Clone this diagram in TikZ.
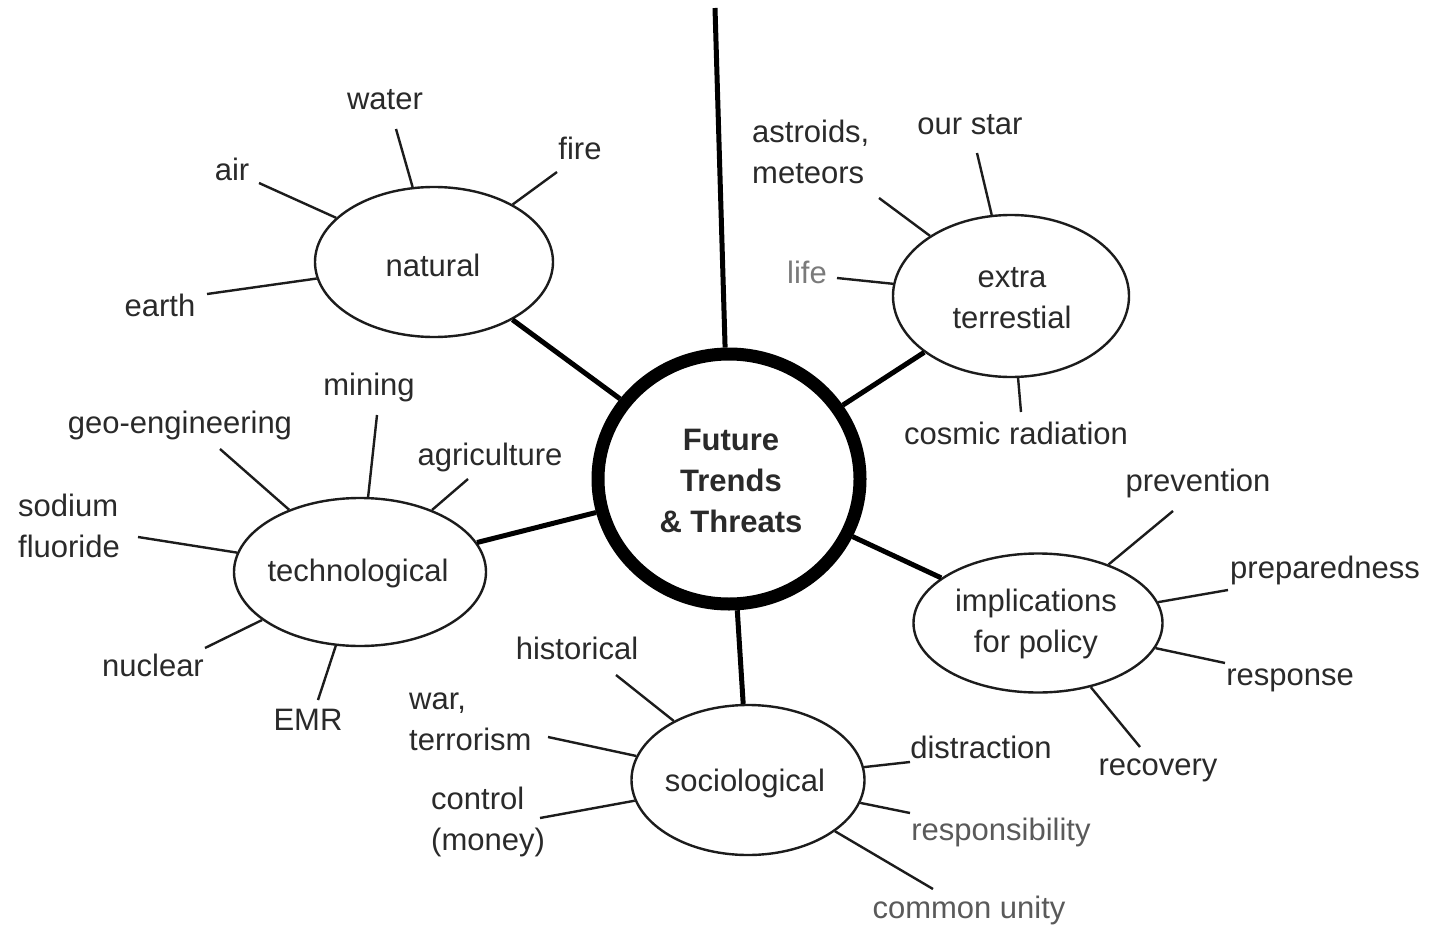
\documentclass[tikz,border=0pt]{standalone}
\usepackage{fontspec}
\setmainfont{Liberation Sans}
\usetikzlibrary{shapes.geometric}
\definecolor{txtc}{HTML}{2A2A2A}
\definecolor{lgray}{HTML}{7A7A7A}
\definecolor{mgray}{HTML}{5A5A5A}
\definecolor{linec}{HTML}{1C1C1C}
\begin{document}
\begin{tikzpicture}[x=1pt,y=-1pt,
  txt/.style={font=\fontsize{31}{41}\selectfont, text=txtc, inner sep=0pt, align=center},
  ltxt/.style={txt, align=left, anchor=west},
  bub/.style={ellipse, draw=linec, line width=2.4pt, fill=white, inner sep=0pt},
  hub/.style={ellipse, draw=black, line width=13pt, fill=white, inner sep=0pt,
              minimum width=262pt, minimum height=250pt},
  spoke/.style={draw=linec, line width=2.4pt},
  mainline/.style={draw=black, line width=5pt}]
\fill[white] (0,0) rectangle (1432,931);
\useasboundingbox (0,0) rectangle (1432,931);

% hub
\node[hub] (ctr) at (729,479) {};
\node[txt, font=\fontsize{31}{41}\selectfont\bfseries] (ctrt) at (731,481) {Future\\Trends\\\& Threats};

% category ellipses
\node[bub, minimum width=238pt, minimum height=150pt] (nat) at (434,262) {};
\node[bub, minimum width=236pt, minimum height=162pt] (ext) at (1011,296) {};
\node[bub, minimum width=252pt, minimum height=148pt] (tech) at (360,572) {};
\node[bub, minimum width=249pt, minimum height=139pt] (pol) at (1038,623) {};
\node[bub, minimum width=233pt, minimum height=150pt] (soc) at (748,780) {};

\node[txt] (natt) at (433,265) {natural};
\node[txt] (extt) at (1012,298) {extra\\terrestial};
\node[txt] (techt) at (358,573) {technological};
\node[txt] (polt) at (1036,624) {implications\\for policy};
\node[txt] (soct) at (745,783) {sociological};

% main connectors
\coordinate (top) at (715,8);
\draw[mainline] (top) -- (ctr);
\draw[mainline] (nat) -- (ctr);
\draw[mainline] (ext) -- (ctr);
\draw[mainline] (tech) -- (ctr);
\draw[mainline] (pol) -- (ctr);
\draw[mainline] (soc) -- (ctr);

% natural
\node[txt] (water) at (385,100) {water};
\node[txt] (fire) at (580,148) {fire};
\node[txt] (air) at (232,169) {air};
\node[txt] (earth) at (160,305) {earth};
\coordinate (water-e) at (396,129);
\coordinate (fire-e) at (557,172);
\coordinate (air-e) at (259,183);
\coordinate (earth-e) at (207,294);
\draw[spoke] (water-e) -- (nat);
\draw[spoke] (fire-e) -- (nat);
\draw[spoke] (air-e) -- (nat);
\draw[spoke] (earth-e) -- (nat);

% extra terrestial
\node[txt] (star) at (970,125) {our star};
\node[ltxt] (astro) at (752,152) {astroids,\\meteors};
\node[txt, text=lgray] (life) at (807,272) {life};
\node[txt] (cosmic) at (1016,433) {cosmic radiation};
\coordinate (star-e) at (977,153);
\coordinate (astro-e) at (879,198);
\coordinate (life-e) at (837,278);
\coordinate (cosmic-e) at (1021,412);
\draw[spoke] (star-e) -- (ext);
\draw[spoke] (astro-e) -- (ext);
\draw[spoke] (life-e) -- (ext);
\draw[spoke] (cosmic-e) -- (ext);

% technological
\node[txt] (mining) at (369,387) {mining};
\node[txt] (geo) at (180,425) {geo-engineering};
\node[txt] (agri) at (490,457) {agriculture};
\node[ltxt] (sodium) at (18,526) {sodium\\fluoride};
\node[txt] (nuclear) at (153,665) {nuclear};
\node[txt] (emr) at (308,720) {EMR};
\coordinate (mining-e) at (377,415);
\coordinate (geo-e) at (220,449);
\coordinate (agri-e) at (468,479);
\coordinate (sodium-e) at (138,537);
\coordinate (nuclear-e) at (205,648);
\coordinate (emr-e) at (318,700);
\draw[spoke] (mining-e) -- (tech);
\draw[spoke] (geo-e) -- (tech);
\draw[spoke] (agri-e) -- (tech);
\draw[spoke] (sodium-e) -- (tech);
\draw[spoke] (nuclear-e) -- (tech);
\draw[spoke] (emr-e) -- (tech);

% implications for policy
\node[txt] (prev) at (1198,483) {prevention};
\node[txt] (prep) at (1325,570) {preparedness};
\node[txt] (resp) at (1290,680) {response};
\node[txt] (reco) at (1158,770) {recovery};
\coordinate (prev-e) at (1173,511);
\coordinate (prep-e) at (1228,590);
\coordinate (resp-e) at (1225,663);
\coordinate (reco-e) at (1140,747);
\draw[spoke] (prev-e) -- (pol);
\draw[spoke] (prep-e) -- (pol);
\draw[spoke] (resp-e) -- (pol);
\draw[spoke] (reco-e) -- (pol);

% sociological
\node[txt] (hist) at (577,648) {historical};
\node[ltxt] (war) at (409,722) {war,\\terrorism};
\node[ltxt] (ctrl) at (431,822) {control\\(money)};
\node[txt] (dist) at (981,747) {distraction};
\node[txt, text=mgray] (respo) at (1001,832) {responsibility};
\node[txt, text=mgray] (unity) at (969,910) {common unity};
\coordinate (hist-e) at (616,675);
\coordinate (war-e) at (548,737);
\coordinate (ctrl-e) at (540,818);
\coordinate (dist-e) at (910,762);
\coordinate (respo-e) at (910,813);
\coordinate (unity-e) at (933,889);
\draw[spoke] (hist-e) -- (soc);
\draw[spoke] (war-e) -- (soc);
\draw[spoke] (ctrl-e) -- (soc);
\draw[spoke] (dist-e) -- (soc);
\draw[spoke] (respo-e) -- (soc);
\draw[spoke] (unity-e) -- (soc);
\end{tikzpicture}
\end{document}
